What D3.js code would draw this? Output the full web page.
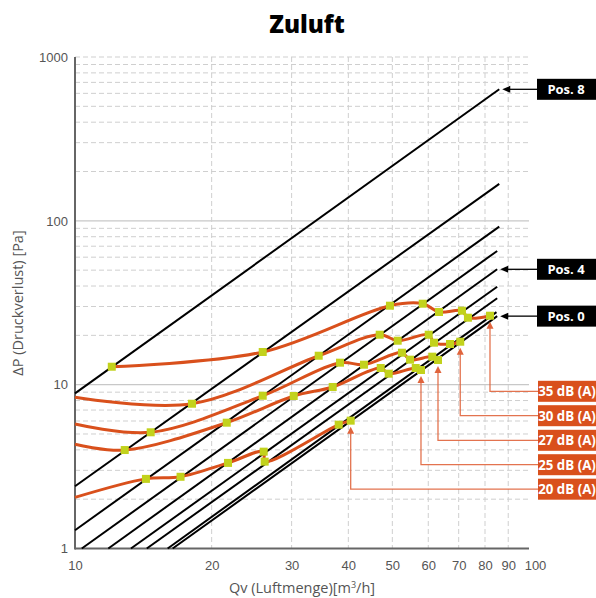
<!DOCTYPE html>
<html>
<head>
<meta charset="utf-8">
<script src="https://cdn.jsdelivr.net/npm/d3@7"></script>
<style>
  html, body { margin: 0; padding: 0; background: #fff; }
  svg { display: block; font-family: "Open Sans", "DejaVu Sans", sans-serif; }
</style>
</head>
<body>
<svg id="chart" width="596" height="598"></svg>
<script>
// ---------- DATA ----------
const xTickValues = [10, 20, 30, 40, 50, 60, 70, 80, 90, 100];
const yTickValues = [1, 10, 100, 1000];

// Position (system) lines: straight lines in log-log, start and end points (Qv, ΔP)
const posNames   = ["Pos. 8", "Pos. 7", "Pos. 6", "Pos. 5", "Pos. 4", "Pos. 3", "Pos. 2", "Pos. 1", "Pos. 0"];
const lineStartQ = [10, 10, 10, 10.35, 11.84, 13.28, 14.39, 16.0, 16.41];
const lineStartP = [8.85, 2.40, 1.293, 1, 1, 1, 1, 1, 1];
const lineEndQ   = [86.0, 86.0, 86.0, 85.1, 85.1, 85.1, 85.1, 84.8, 85.1];
const lineEndP   = [635, 168, 92.2, 65.5, 50.6, 39.6, 33.7, 27.7, 26.2];
const labelledPos = ["Pos. 8", "Pos. 4", "Pos. 0"];

// Sound level curves (Qv, ΔP)
const dbNames = ["35 dB (A)", "30 dB (A)", "27 dB (A)", "25 dB (A)", "20 dB (A)"];
const db35Q = [12.05, 25.91, 49.4, 58.33, 63.35, 71.17, 73.37, 82.05];
const db35P = [12.87, 15.83, 30.34, 31.2, 27.77, 28.28, 25.63, 26.36];
const db30Q = [10, 18.10, 34.42, 46.9, 51.38, 60.13, 61.77, 66.99, 70.56];
const db30P = [8.37, 7.65, 15.02, 20.18, 18.55, 20.18, 18.04, 17.71, 18.29];
const db27Q = [10, 14.68, 25.91, 38.35, 43.3, 52.5, 54.7, 61.24, 63.03];
const db27P = [5.75, 5.12, 8.56, 13.62, 13.24, 15.67, 14.21, 14.82, 14.14];
const db25Q = [10, 12.87, 21.59, 30.32, 36.95, 47.14, 49.09, 56.3, 57.82];
const db25P = [4.33, 3.99, 5.86, 8.53, 9.68, 12.64, 11.67, 12.64, 12.29];
const db20Q = [10, 14.33, 17.08, 21.73, 26.04, 26.17, 38.09, 40.48];
const db20P = [2.05, 2.66, 2.74, 3.33, 3.90, 3.39, 5.70, 6.03];
// whether the first point of a curve carries a marker (curves starting at the axis do not)
const dbFirstMarker = [true, false, false, false, false];

// ---------- LAYOUT ----------
const svg = d3.select("#chart");
const x = d3.scaleLog().domain([10, 100]).range([75, 529]);
const y = d3.scaleLog().domain([1, 1000]).range([548.5, 57]);

const ORANGE = "#d9501c";
const MARK = "#c2d21c";

// ---------- GRID ----------
const minorY = [];
[1, 10, 100].forEach(d => { for (let m = 2; m <= 9; m++) minorY.push(d * m); });
minorY.push(1000);
const majorY = [10, 100];
const gridV = [20, 30, 40, 50, 60, 70, 80, 90];

const grid = svg.append("g");
grid.selectAll("line.minY").data(minorY).enter().append("line")
  .attr("x1", x(10)).attr("x2", x(100))
  .attr("y1", d => y(d)).attr("y2", d => y(d))
  .attr("stroke", "#cfcfcf").attr("stroke-width", 1).attr("stroke-dasharray", "5,3");
grid.selectAll("line.majY").data(majorY).enter().append("line")
  .attr("x1", x(10)).attr("x2", x(100))
  .attr("y1", d => y(d)).attr("y2", d => y(d))
  .attr("stroke", "#c8c8c8").attr("stroke-width", 1.2);
grid.selectAll("line.v").data(gridV).enter().append("line")
  .attr("x1", d => x(d)).attr("x2", d => x(d))
  .attr("y1", y(1000)).attr("y2", y(1))
  .attr("stroke", "#cfcfcf").attr("stroke-width", 1).attr("stroke-dasharray", "5,3");

// ---------- AXES ----------
const xAxis = d3.axisBottom(x).tickValues(xTickValues).tickSize(0).tickPadding(12)
  .tickFormat(d3.format("d"));
const gx = svg.append("g").attr("transform", `translate(0,${y(1)})`).call(xAxis);
gx.select(".domain").remove();
gx.selectAll("text").attr("fill", "#555").style("font-size", "13px")
  .attr("dx", d => d === 100 ? 6 : 0);

const yAxis = d3.axisLeft(y).tickValues(yTickValues).tickSize(0).tickPadding(7)
  .tickFormat(d3.format("d"));
const gy = svg.append("g").attr("transform", `translate(${x(10)},0)`).call(yAxis);
gy.select(".domain").remove();
gy.selectAll("text").attr("fill", "#555").style("font-size", "13px");

svg.append("line").attr("x1", x(10)).attr("x2", x(10)).attr("y1", y(1000)).attr("y2", y(1) + 1)
  .attr("stroke", "#666").attr("stroke-width", 2);
svg.append("line").attr("x1", x(10)).attr("x2", x(100)).attr("y1", y(1)).attr("y2", y(1))
  .attr("stroke", "#666").attr("stroke-width", 2);

// ---------- TITLES ----------
svg.append("text").attr("x", 307).attr("y", 33).attr("text-anchor", "middle")
  .style("font-size", "24px").style("font-weight", "800").attr("fill", "#000").text("Zuluft");

const xl = svg.append("text").attr("x", 302).attr("y", 593).attr("text-anchor", "middle")
  .style("font-size", "14.5px").attr("fill", "#555");
xl.append("tspan").text("Qv (Luftmenge)[m");
xl.append("tspan").attr("dy", -5).style("font-size", "9px").text("3");
xl.append("tspan").attr("dy", 5).text("/h]");

svg.append("text").attr("transform", "translate(23,303) rotate(-90)").attr("text-anchor", "middle")
  .style("font-size", "14.5px").attr("fill", "#555").text("ΔP (Druckverlust) [Pa]");

// ---------- POSITION LINES ----------
const posData = posNames.map((n, i) => ({
  name: n,
  pts: [[lineStartQ[i], lineStartP[i]], [lineEndQ[i], lineEndP[i]]]
}));
const lineGen = d3.line().x(d => x(d[0])).y(d => y(d[1]));
svg.append("g").selectAll("path").data(posData).enter().append("path")
  .attr("d", d => lineGen(d.pts))
  .attr("fill", "none").attr("stroke", "#000").attr("stroke-width", 2);

// ---------- dB CONNECTORS & LABELS ----------
const dbQ = [db35Q, db30Q, db27Q, db25Q, db20Q];
const dbP = [db35P, db30P, db27P, db25P, db20P];
const dbData = dbNames.map((n, i) => ({
  name: n,
  pts: dbQ[i].map((q, j) => [q, dbP[i][j]]),
  firstMarker: dbFirstMarker[i]
}));

const boxX = 538, boxW = 60, boxH = 21;
const dbBoxY = [391.3, 415.7, 440.3, 464.7, 489.2];
const conn = svg.append("g");
dbData.forEach((d, i) => {
  const last = d.pts[d.pts.length - 1];
  const ax = x(last[0]), ay = y(last[1]) + 6;
  const cy = dbBoxY[i];
  conn.append("path")
    .attr("d", `M${boxX},${cy}H${ax}V${ay + 6}`)
    .attr("fill", "none").attr("stroke", "#e0643c").attr("stroke-width", 1.3).attr("opacity", 0.9);
  conn.append("path")
    .attr("d", `M${ax},${ay}L${ax - 3.5},${ay + 7}L${ax + 3.5},${ay + 7}Z`)
    .attr("fill", "#e0643c");
  conn.append("rect").attr("x", boxX).attr("y", cy - boxH / 2).attr("width", boxW).attr("height", boxH)
    .attr("fill", ORANGE);
  conn.append("text").attr("x", boxX + 29).attr("y", cy + 4.8).attr("text-anchor", "middle")
    .attr("fill", "#fff").style("font-size", "13.3px").style("font-weight", "bold").text(d.name);
});

// ---------- dB CURVES ----------
const curveGen = d3.line().x(d => x(d[0])).y(d => y(d[1])).curve(d3.curveCatmullRom.alpha(0.5));
const cg = svg.append("g");
cg.selectAll("path").data(dbData).enter().append("path")
  .attr("d", d => curveGen(d.pts))
  .attr("fill", "none").attr("stroke", ORANGE).attr("stroke-width", 3);
dbData.forEach(d => {
  const pts = d.firstMarker ? d.pts : d.pts.slice(1);
  cg.selectAll(null).data(pts).enter().append("rect")
    .attr("x", p => x(p[0]) - 4).attr("y", p => y(p[1]) - 4)
    .attr("width", 8).attr("height", 8).attr("fill", MARK);
});

// ---------- POS LABELS ----------
const pg = svg.append("g");
posData.filter(d => labelledPos.includes(d.name)).forEach(d => {
  const end = d.pts[1];
  const ey = y(end[1]);
  const tip = x(end[0]) + 3;
  pg.append("line").attr("x1", tip + 6).attr("x2", boxX).attr("y1", ey).attr("y2", ey)
    .attr("stroke", "#000").attr("stroke-width", 1.3);
  pg.append("path").attr("d", `M${tip},${ey}L${tip + 8},${ey - 3.5}L${tip + 8},${ey + 3.5}Z`).attr("fill", "#000");
  pg.append("rect").attr("x", boxX - 1).attr("y", ey - 10.5).attr("width", boxW).attr("height", 21)
    .attr("fill", "#000");
  pg.append("text").attr("x", boxX + 28).attr("y", ey + 4.8).attr("text-anchor", "middle")
    .attr("fill", "#fff").style("font-size", "13px").style("font-weight", "bold").text(d.name);
});
</script>
</body>
</html>
